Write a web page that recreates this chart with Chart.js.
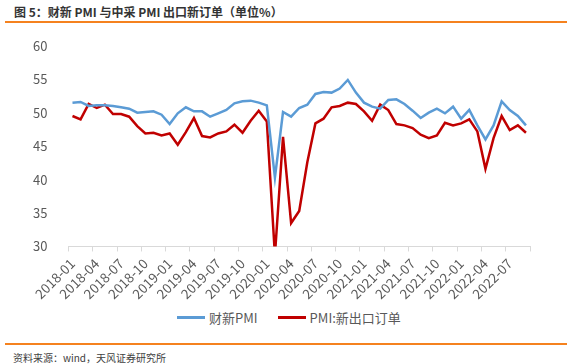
<!DOCTYPE html>
<html>
<head>
<meta charset="utf-8">
<script src="https://cdn.jsdelivr.net/npm/chart.js@4/dist/chart.umd.min.js"></script>
<style>
  body { margin: 0; width: 572px; height: 364px; background: #fff; position: relative; overflow: hidden;
         font-family: "Noto Sans CJK SC", "Noto Sans", sans-serif; }
  #title { position: absolute; left: 14px; top: 3px; font-size: 12px; font-weight: bold; color: #333; white-space: nowrap; }
  .rule { position: absolute; left: 5px; width: 562px; height: 0; border-top: 2px solid #f5821f; }
  #chartBox { position: absolute; left: 0; top: 25px; width: 572px; height: 281px; }
  #legend { position: absolute; left: 177px; top: 308px; display: flex; align-items: center;
            font-size: 13px; color: #595959; white-space: nowrap; }
  #legend .item { display: flex; align-items: center; margin-right: 20px; }
  #legend .swatch { width: 28px; height: 3px; margin-right: 4px; }
  #source { position: absolute; left: 13px; top: 350px; font-size: 10px; color: #404040; white-space: nowrap; }
</style>
</head>
<body>
<div id="title">图 5：财新 PMI 与中采 PMI 出口新订单（单位%）</div>
<div class="rule" style="top:21px"></div>
<div id="chartBox"><canvas id="pmiChart"></canvas></div>
<div id="legend"></div>
<div class="rule" style="top:343px"></div>
<div id="source">资料来源：wind，天风证券研究所</div>
<script>
const months = [
  '2018-01','2018-02','2018-03','2018-04','2018-05','2018-06','2018-07','2018-08','2018-09','2018-10','2018-11','2018-12',
  '2019-01','2019-02','2019-03','2019-04','2019-05','2019-06','2019-07','2019-08','2019-09','2019-10','2019-11','2019-12',
  '2020-01','2020-02','2020-03','2020-04','2020-05','2020-06','2020-07','2020-08','2020-09','2020-10','2020-11','2020-12',
  '2021-01','2021-02','2021-03','2021-04','2021-05','2021-06','2021-07','2021-08','2021-09','2021-10','2021-11','2021-12',
  '2022-01','2022-02','2022-03','2022-04','2022-05','2022-06','2022-07','2022-08','2022-09'
];

// 财新制造业PMI
const caixinPmi = [
  51.5, 51.6, 51.0, 51.1, 51.1, 51.0, 50.8, 50.6, 50.0, 50.1, 50.2, 49.7,
  48.3, 49.9, 50.8, 50.2, 50.2, 49.4, 49.9, 50.4, 51.4, 51.7, 51.8, 51.5,
  51.1, 40.3, 50.1, 49.4, 50.7, 51.2, 52.8, 53.1, 53.0, 53.6, 54.9, 53.0,
  51.5, 50.9, 50.6, 51.9, 52.0, 51.3, 50.3, 49.2, 50.0, 50.6, 49.9, 50.9,
  49.1, 50.4, 48.1, 46.0, 48.1, 51.7, 50.4, 49.5, 48.1
];

// 中采PMI：新出口订单
const exportOrders = [
  49.5, 49.0, 51.3, 50.7, 51.2, 49.8, 49.8, 49.4, 48.0, 46.9, 47.0, 46.6,
  46.9, 45.2, 47.1, 49.2, 46.5, 46.3, 46.9, 47.2, 48.2, 47.0, 48.8, 50.3,
  48.7, 28.7, 46.4, 33.5, 35.3, 42.6, 48.4, 49.1, 50.8, 51.0, 51.5, 51.3,
  50.2, 48.8, 51.2, 50.4, 48.3, 48.1, 47.7, 46.7, 46.2, 46.6, 48.5, 48.1,
  48.4, 49.0, 47.2, 41.6, 46.2, 49.5, 47.4, 48.1, 47.0
];

const yMin = 30;
const yMax = 60;
const yStep = 5;

const textColor = '#595959';
const axisColor = '#d9d9d9';
const fontFamily = '"Noto Sans CJK SC", "Noto Sans", sans-serif';

const ctx = document.getElementById('pmiChart').getContext('2d');
const chart = new Chart(ctx, {
  type: 'line',
  data: {
    labels: months,
    datasets: [
      {
        label: '财新PMI',
        data: caixinPmi,
        borderColor: '#5b9bd5',
        backgroundColor: '#5b9bd5',
        borderWidth: 2.5,
        pointRadius: 0,
        tension: 0
      },
      {
        label: 'PMI:新出口订单',
        data: exportOrders,
        borderColor: '#c00000',
        backgroundColor: '#c00000',
        borderWidth: 2.5,
        pointRadius: 0,
        tension: 0
      }
    ]
  },
  options: {
    responsive: true,
    maintainAspectRatio: false,
    animation: false,
    layout: {
      padding: { left: 20, right: 42, top: 10, bottom: 0 }
    },
    plugins: {
      legend: { display: false },
      tooltip: { enabled: false }
    },
    scales: {
      x: {
        offset: true,
        grid: {
          offset: true,
          drawOnChartArea: false,
          drawTicks: true,
          tickLength: 5,
          // only every third tick mark, like the labels
          color: c => (c.type !== 'tick' || c.index % 3 === 0) ? axisColor : 'rgba(0,0,0,0)'
        },
        border: { display: true, color: axisColor, width: 1 },
        ticks: {
          autoSkip: false,
          maxRotation: 45,
          minRotation: 45,
          color: textColor,
          font: { family: fontFamily, size: 13.5 },
          padding: 4,
          callback: function(value, index) {
            return index % 3 === 0 ? this.getLabelForValue(value) : '';
          }
        }
      },
      y: {
        min: yMin,
        max: yMax,
        grid: { display: false },
        border: { display: false },
        ticks: {
          stepSize: yStep,
          color: textColor,
          font: { family: fontFamily, size: 13 },
          padding: 13
        }
      }
    }
  }
});

// legend outside the canvas so the item spacing can match the original
const legend = document.getElementById('legend');
legend.innerHTML = chart.data.datasets.map(ds => `
  <div class="item">
    <span class="swatch" style="background:${ds.borderColor}"></span>
    <span>${ds.label}</span>
  </div>
`).join('');
</script>
</body>
</html>
